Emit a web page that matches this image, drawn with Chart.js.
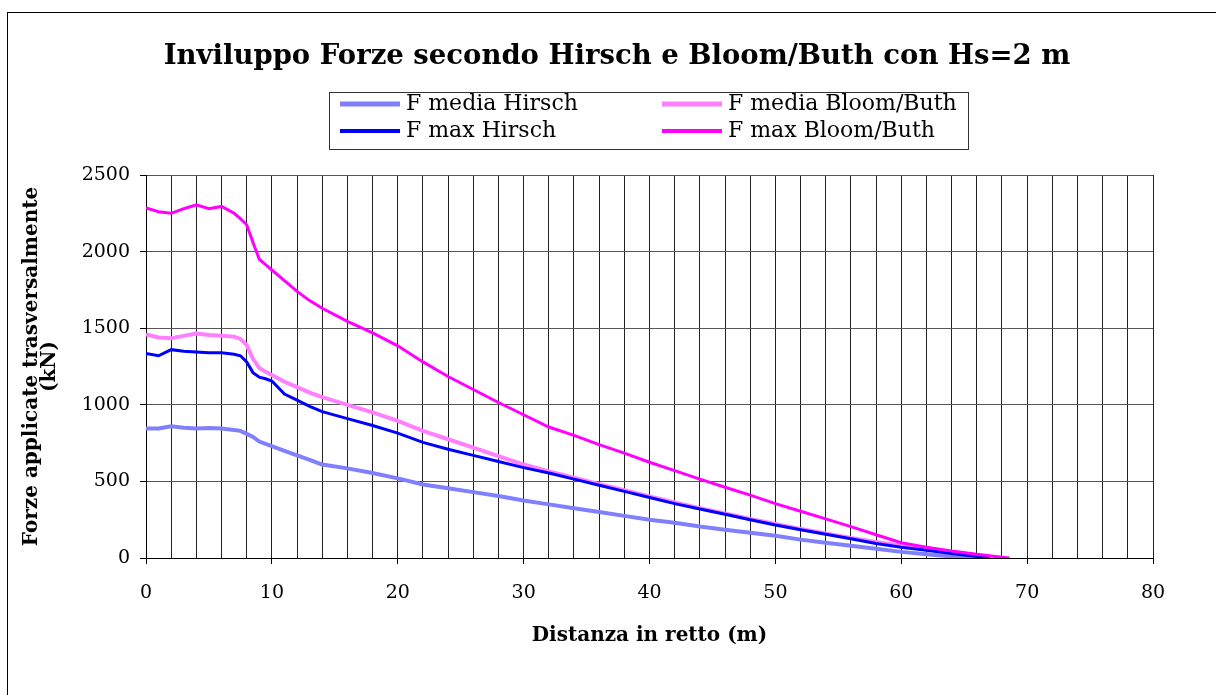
<!DOCTYPE html>
<html>
<head>
<meta charset="utf-8">
<script src="https://cdn.jsdelivr.net/npm/chart.js@4"></script>
<style>
  html, body { margin: 0; padding: 0; background: #fff; }
  canvas { display: block; }
</style>
</head>
<body>
<canvas id="chart" width="1216" height="695"></canvas>
<script>
'use strict';

var distanza = [0, 1, 2, 3, 4, 5, 6, 7, 7.5, 8, 8.5, 9, 9.5, 10, 11, 12, 13, 14, 16, 18, 20, 22, 24, 26, 28, 30,
    32, 34, 36, 38, 40, 42, 44, 46, 48, 50, 52, 54, 56, 58, 60, 62, 64, 66, 67, 68, 68.6];

var fMediaHirsch = [845, 845, 860, 850, 845, 848, 845, 835, 830, 810, 790, 760, 745, 730, 700, 670, 640, 610, 585, 555, 520, 480, 455, 430, 405, 375,
    350, 325, 300, 275, 250, 230, 205, 185, 165, 145, 120, 100, 80, 60, 40, 25, 10, 3, 0, null, null];

var fMaxHirsch = [1335, 1320, 1360, 1350, 1345, 1340, 1340, 1330, 1320, 1280, 1210, 1180, 1170, 1155, 1070, 1030, 990, 955, 910, 865, 815, 755, 710, 670, 630, 590,
    555, 515, 475, 435, 395, 355, 320, 285, 250, 215, 185, 155, 125, 95, 70, 50, 30, 10, 0, null, null];

var fMediaBloom = [1460, 1440, 1435, 1450, 1465, 1455, 1450, 1445, 1430, 1390, 1300, 1240, 1215, 1195, 1150, 1115, 1080, 1050, 1000, 950, 895, 830, 775, 720, 665, 610,
    565, 525, 482, 442, 402, 362, 325, 290, 255, 222, 190, 160, 130, 104, 80, 58, 38, 18, 8, 0, null];

var fMaxBloom = [2285, 2260, 2250, 2280, 2305, 2280, 2295, 2250, 2215, 2175, 2060, 1950, 1915, 1880, 1810, 1740, 1680, 1630, 1545, 1470, 1385, 1280, 1185, 1100, 1015, 935,
    855, 800, 740, 685, 625, 570, 515, 462, 410, 355, 305, 255, 205, 152, 100, 70, 45, 25, 15, 5, 0];

var serieNomi = ['F media Hirsch', 'F max Hirsch', 'F media Bloom/Buth', 'F max Bloom/Buth'];
var serieColori = ['#8080FF', '#0000FF', '#FF80FF', '#FF00FF'];

function punti(values) {
    var result = [];
    for (var i = 0; i < distanza.length; i++) {
        if (values[i] != null) {
            result.push({x: distanza[i], y: values[i]});
        }
    }
    return result;
}

function dataset(i, values, width, order) {
    return {
        label: serieNomi[i],
        data: punti(values),
        borderColor: serieColori[i],
        backgroundColor: serieColori[i],
        borderWidth: width,
        pointRadius: 0,
        tension: 0,
        fill: false,
        order: order
    };
}

// titolo, legenda a due colonne e cornice esterna
var decorPlugin = {
    id: 'decor',
    afterDraw: function (chart) {
        var ctx = chart.ctx;
        ctx.save();

        ctx.strokeStyle = '#000';
        ctx.lineWidth = 1;
        ctx.strokeRect(7.5, 12.5, 1300, 800);

        ctx.fillStyle = '#000';
        ctx.textAlign = 'center';
        ctx.textBaseline = 'middle';
        ctx.font = 'bold 27.5px "DejaVu Serif"';
        ctx.fillText('Inviluppo Forze secondo Hirsch e Bloom/Buth con Hs=2 m', 617, 57);

        ctx.strokeStyle = '#333';
        ctx.strokeRect(329.5, 92.5, 639, 57);

        var cols = [340, 662];
        var rows = [104, 131];
        var pos = [[0, 0], [0, 1], [1, 0], [1, 1]];
        ctx.font = '22px "DejaVu Serif"';
        ctx.textAlign = 'left';
        var ds = chart.data.datasets;
        for (var i = 0; i < ds.length; i++) {
            var cx = cols[pos[i][0]];
            var cy = rows[pos[i][1]];
            ctx.strokeStyle = ds[i].borderColor;
            ctx.lineWidth = ds[i].borderWidth + 1;
            ctx.beginPath();
            ctx.moveTo(cx, cy);
            ctx.lineTo(cx + 60, cy);
            ctx.stroke();
            ctx.fillStyle = '#000';
            ctx.fillText(ds[i].label, cx + 66, cy);
        }
        ctx.restore();
    }
};

var ctx = document.getElementById('chart').getContext('2d');

var chart = new Chart(ctx, {
    type: 'line',
    data: {
        datasets: [
            dataset(0, fMediaHirsch, 4, 3),
            dataset(1, fMaxHirsch, 3, 1),
            dataset(2, fMediaBloom, 4, 2),
            dataset(3, fMaxBloom, 3, 0)
        ]
    },
    options: {
        responsive: false,
        animation: false,
        layout: {
            padding: {top: 175, right: 63, left: 10, bottom: 0}
        },
        plugins: {
            legend: {display: false},
            title: {display: false},
            tooltip: {enabled: false}
        },
        scales: {
            x: {
                type: 'linear',
                min: 0,
                max: 80,
                afterFit: function (scale) {
                    scale.height = 137;
                },
                ticks: {
                    stepSize: 2,
                    autoSkip: false,
                    maxRotation: 0,
                    padding: 18,
                    color: '#000',
                    font: {family: '"DejaVu Serif"', size: 19},
                    callback: function (value) {
                        return value % 10 === 0 ? String(value) : '';
                    }
                },
                grid: {
                    color: '#222',
                    lineWidth: 1,
                    tickLength: 6,
                    tickColor: function (c) {
                        return c.tick && c.tick.value % 10 === 0 ? '#000' : 'rgba(0,0,0,0)';
                    }
                },
                border: {color: '#000', width: 1},
                title: {
                    display: true,
                    text: 'Distanza in retto (m)',
                    color: '#000',
                    font: {family: '"DejaVu Serif"', size: 20, weight: 'bold', lineHeight: 1.2},
                    padding: {top: 0, bottom: 47}
                }
            },
            y: {
                min: 0,
                max: 2500,
                afterFit: function (scale) {
                    scale.width = 136;
                },
                ticks: {
                    stepSize: 500,
                    padding: 10,
                    color: '#000',
                    font: {family: '"DejaVu Serif"', size: 19},
                    callback: function (value) {
                        return String(value);
                    }
                },
                grid: {
                    color: '#555',
                    lineWidth: 1,
                    tickLength: 6,
                    tickColor: '#000'
                },
                border: {color: '#000', width: 1},
                title: {
                    display: true,
                    text: ['Forze applicate trasversalmente', '(kN)'],
                    color: '#000',
                    font: {family: '"DejaVu Serif"', size: 20, weight: 'bold', lineHeight: 0.9},
                    padding: {top: 13, bottom: 0}
                }
            }
        }
    },
    plugins: [decorPlugin]
});
</script>
</body>
</html>
